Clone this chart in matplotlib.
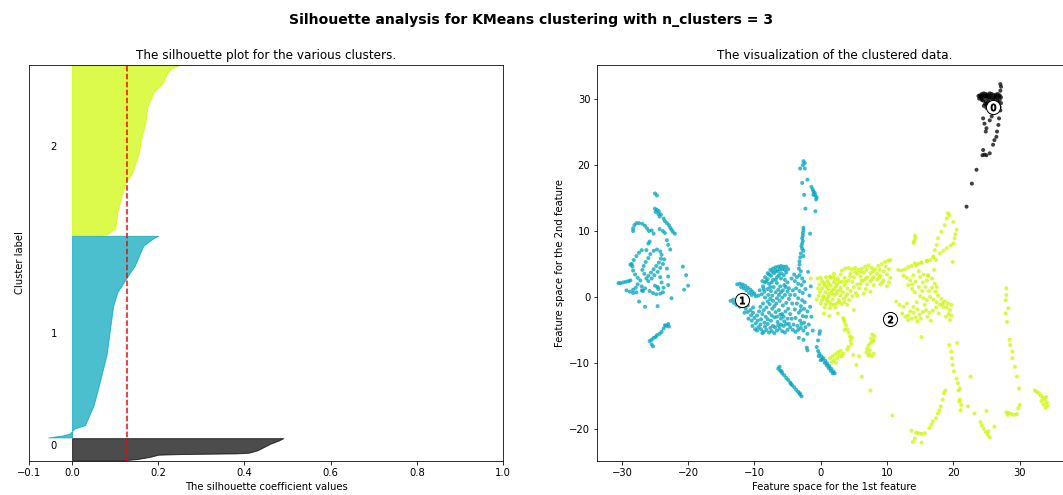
import numpy as np
import matplotlib
matplotlib.use("Agg")
import matplotlib.pyplot as plt
import matplotlib.cm as cm

n_clusters = 3
silhouette_avg = 0.128

# Number of samples per cluster and the gap between cluster bands
cluster_sizes = [280, 2560, 2160]
band_gap = 10
y_top = 5030

# Sorted silhouette coefficients of each cluster, at fractional rank positions
sil_rank_0 = [0.0, 0.05, 0.15, 0.25, 0.28, 0.31, 0.34, 0.45, 0.6, 0.75, 0.9, 1.0]
sil_vals_0 = [0.12, 0.15, 0.18, 0.20, 0.25, 0.38, 0.41, 0.43, 0.445, 0.46, 0.48, 0.49]

sil_rank_1 = [0.0, 0.01, 0.02, 0.044, 0.061, 0.16, 0.24, 0.325, 0.41, 0.49, 0.57,
              0.65, 0.72, 0.77, 0.82, 0.85, 0.9, 0.95, 0.975, 0.99, 1.0]
sil_vals_1 = [-0.055, -0.02, -0.005, 0.005, 0.03, 0.05, 0.06, 0.07, 0.08, 0.085, 0.09,
              0.095, 0.105, 0.12, 0.135, 0.145, 0.155, 0.165, 0.18, 0.19, 0.2]

sil_rank_2 = [0.0, 0.004, 0.039, 0.136, 0.233, 0.311, 0.369, 0.408, 0.485, 0.563, 0.66,
              0.757, 0.845, 0.893, 0.951, 0.98, 1.0]
sil_vals_2 = [0.06, 0.08, 0.10, 0.105, 0.115, 0.125, 0.14, 0.145, 0.155, 0.16, 0.17,
              0.175, 0.19, 0.21, 0.22, 0.23, 0.25]

sil_ranks = [sil_rank_0, sil_rank_1, sil_rank_2]
sil_vals = [sil_vals_0, sil_vals_1, sil_vals_2]

# 2-D embedding of the samples, grouped by assigned cluster
cluster0_points = [
    (27.1, 32.3), (27.2, 31.9), (27.1, 31.3),
    (24.0, 30.6), (24.3, 30.8), (24.6, 30.9), (24.9, 30.8), (25.2, 30.7), (25.5, 30.9),
    (25.8, 30.8), (26.1, 30.6), (26.4, 30.7), (26.7, 30.8), (27.0, 30.6), (27.2, 30.3),
    (24.2, 30.2), (24.6, 30.3), (25.0, 30.2), (25.4, 30.3), (25.8, 30.2), (26.2, 30.2),
    (26.6, 30.2), (27.0, 29.9), (24.5, 29.8), (24.9, 29.7), (25.3, 29.6), (25.6, 29.4),
    (25.2, 29.1), (25.0, 28.7), (25.4, 28.4), (25.8, 28.2), (27.2, 29.4), (27.0, 28.8),
    (27.1, 28.3), (24.3, 29.9), (23.8, 30.5), (23.9, 30.1), (24.7, 30.5), (25.6, 30.5),
    (26.4, 30.4), (26.9, 30.4), (25.1, 30.4), (24.4, 30.5), (24.8, 29.3), (26.6, 29.8),
    (24.1, 30.4), (24.9, 30.5), (25.4, 30.0), (26.0, 30.0), (26.8, 29.5), (25.0, 29.3),
    (24.6, 29.0),
    (24.5, 27.1), (24.7, 26.3), (25.0, 25.6), (24.9, 25.1), (25.5, 26.8), (25.8, 27.4),
    (26.9, 27.1), (26.8, 26.1), (26.6, 25.1), (26.5, 24.3), (26.2, 23.8), (26.0, 23.1),
    (24.5, 22.3), (24.4, 21.5), (25.0, 21.5), (25.5, 21.8), (24.7, 21.6),
    (23.5, 19.3), (22.8, 17.2), (22.0, 13.7),
]

cluster1_points = [
    # western group
    (-25.0, 15.7), (-24.7, 15.4),
    (-25.0, 13.4), (-24.7, 13.2), (-24.4, 13.0), (-24.9, 12.9), (-24.5, 12.6), (-24.1, 12.5),
    (-24.3, 12.2),
    (-23.7, 11.9), (-23.5, 11.5), (-23.2, 11.2), (-22.9, 10.9), (-22.7, 10.5), (-22.5, 10.2),
    (-22.3, 9.9), (-22.0, 9.6),
    (-28.3, 10.4), (-28.1, 10.9), (-27.8, 11.2), (-27.4, 11.2), (-26.9, 11.1), (-26.5, 10.8),
    (-26.2, 10.4), (-25.9, 10.0), (-28.3, 10.0),
    (-25.5, 10.1), (-25.2, 9.6), (-24.3, 10.3), (-23.8, 10.0), (-23.5, 9.7), (-23.2, 8.6),
    (-23.0, 7.9), (-22.7, 7.2), (-25.8, 8.4), (-26.0, 8.1), (-26.3, 7.1),
    (-28.5, 5.0), (-28.2, 5.6), (-27.8, 6.2), (-27.4, 6.7), (-27.0, 7.1), (-28.4, 4.6),
    (-28.7, 4.9),
    (-26.0, 5.9), (-25.7, 6.5), (-25.2, 7.0), (-24.7, 7.2), (-24.2, 6.9), (-24.0, 6.4),
    (-24.1, 5.8), (-24.4, 5.2), (-24.8, 4.7), (-25.2, 4.2), (-25.6, 3.7), (-26.0, 3.2),
    (-26.3, 2.8), (-26.0, 2.4), (-25.5, 2.8), (-25.1, 3.3), (-24.6, 3.8), (-24.2, 4.4),
    (-23.8, 5.0), (-23.6, 5.7), (-26.4, 5.3), (-26.7, 4.7), (-26.9, 4.1), (-26.6, 3.5),
    (-28.3, 4.0), (-28.0, 3.4), (-27.6, 2.9), (-27.2, 2.5), (-27.6, 1.9), (-27.9, 1.4),
    (-28.3, 1.1), (-27.0, 1.6), (-26.8, 0.9),
    (-30.5, 2.1), (-30.2, 2.1), (-29.8, 2.2), (-29.4, 2.3), (-29.0, 2.4), (-28.7, 2.5),
    (-29.3, 1.0), (-28.8, 0.8), (-28.3, 0.6), (-27.8, 0.7), (-27.0, 1.0), (-26.5, 1.3),
    (-25.8, 0.9), (-25.3, 0.6), (-24.8, 0.4), (-24.2, 0.5), (-23.8, 0.7), (-24.5, 1.2),
    (-25.0, 1.7), (-23.7, 1.4),
    (-23.2, 4.3), (-23.0, 3.1), (-23.0, 1.8), (-22.5, -0.2), (-20.8, 4.6), (-20.3, 3.3),
    (-20.0, 1.7), (-20.6, 1.1), (-24.2, 3.0), (-24.0, 2.2), (-24.6, 1.5),
    (-27.4, -0.7), (-26.5, -1.5), (-24.6, -1.4),
    (-23.0, -4.1), (-23.3, -4.4), (-23.7, -4.8), (-24.0, -5.3), (-24.3, -5.6), (-24.7, -5.8),
    (-25.2, -6.2), (-25.5, -6.5), (-25.8, -6.7), (-25.5, -7.2), (-25.3, -7.5), (-23.5, -4.3),
    (-22.9, -4.5), (-24.9, -6.1),
    # northern strand
    (-2.6, 20.6), (-2.4, 20.3), (-2.7, 20.0), (-3.1, 19.5), (-2.4, 19.5), (-2.8, 17.3),
    (-2.0, 17.8), (-1.4, 16.7), (-1.2, 16.3), (-0.9, 15.8), (-0.8, 15.4), (-0.6, 15.1),
    (-1.1, 15.5), (-0.7, 14.8), (-2.5, 15.5), (-2.3, 13.4), (-0.8, 13.0), (-1.1, 16.0),
    (-2.6, 10.5), (-2.6, 10.1), (-2.7, 9.7), (-2.7, 9.3), (-2.8, 8.9), (-2.7, 8.5),
    (-2.8, 8.1), (-2.9, 7.7), (-2.8, 7.3), (-2.6, 7.0), (-1.6, 9.6), (-3.0, 6.6),
    (-3.1, 6.0), (-3.2, 5.4), (-3.2, 4.9), (-3.3, 4.3), (-3.0, 3.9), (-2.6, 6.2),
    (-1.9, 3.8),
    # central group
    (-13.6, -0.6), (-13.2, -0.4), (-12.6, 1.9), (-12.2, 2.0), (-11.8, 1.9), (-11.4, 1.7),
    (-11.0, 1.4), (-10.6, 1.1), (-10.3, 0.8), (-10.0, 0.5), (-9.8, 0.1), (-13.1, -0.9),
    (-12.7, -1.2), (-12.2, -1.5),
    (-11.0, -1.3), (-11.3, -1.8), (-11.0, -2.3), (-10.6, -2.0), (-10.2, -1.6), (-10.5, -2.8),
    (-10.9, -3.3), (-10.4, -3.6), (-10.0, -3.2), (-9.6, -2.8), (-9.8, -4.0), (-10.3, -4.4),
    (-9.9, -4.9), (-9.4, -4.6), (-9.0, -4.9), (-8.6, -5.3), (-8.2, -5.0), (-7.8, -5.4),
    (-7.4, -5.2), (-7.0, -5.5), (-6.6, -5.1), (-6.2, -4.8), (-5.8, -5.2), (-5.4, -5.4),
    (-5.0, -5.0), (-4.6, -4.6), (-4.2, -5.0), (-3.8, -5.3), (-3.4, -5.0), (-3.0, -4.7),
    (-2.6, -5.1), (-2.3, -4.6),
    (-8.8, 2.4), (-8.4, 3.0), (-8.0, 3.6), (-7.6, 4.1), (-7.2, 4.3), (-6.8, 4.5), (-6.4, 4.6),
    (-6.0, 4.7), (-5.6, 4.6), (-5.2, 4.6), (-4.9, 4.2), (-5.2, 3.7), (-5.6, 3.3), (-6.0, 3.6),
    (-6.5, 3.9), (-7.0, 3.6), (-7.5, 3.2), (-8.0, 2.7), (-8.4, 2.2), (-8.7, 1.6), (-7.8, 2.0),
    (-7.2, 2.6), (-6.6, 3.0), (-6.0, 2.8), (-5.4, 2.6), (-5.0, 2.2), (-5.3, 1.5), (-5.7, 1.0),
    (-6.1, 1.6), (-6.6, 2.1), (-7.1, 1.5), (-7.5, 0.9), (-8.0, 1.2), (-8.5, 0.8), (-8.9, 0.4),
    (-8.4, -0.1), (-7.9, 0.3), (-7.3, 0.2), (-6.8, 0.7), (-6.3, 0.3), (-5.8, -0.1),
    (-5.4, 0.3), (-5.0, 0.8), (-4.8, -0.3), (-5.2, -0.9), (-5.7, -1.3), (-6.2, -0.6),
    (-6.7, -1.0), (-7.2, -0.6), (-7.7, -1.1), (-8.2, -1.6), (-8.7, -1.0), (-9.1, -1.5),
    (-9.3, -2.2), (-8.8, -2.6), (-8.3, -3.0), (-7.8, -2.4), (-7.3, -1.8), (-6.8, -2.3),
    (-6.3, -2.0), (-5.8, -2.6), (-5.3, -2.2), (-4.9, -1.8), (-4.6, -2.6), (-5.0, -3.3),
    (-5.5, -3.7), (-6.0, -3.3), (-6.5, -3.8), (-7.0, -3.1), (-7.5, -3.6), (-8.0, -4.1),
    (-8.5, -3.9), (-9.0, -3.4), (-7.2, -4.4), (-6.4, -4.3), (-5.6, -4.4), (-4.8, -4.1),
    (-12.0, 1.5), (-11.6, 1.3), (-11.2, 1.0), (-10.8, 0.6), (-10.4, 0.3), (-9.2, 1.0),
    (-9.4, 0.2), (-8.6, 1.2), (-8.2, 2.4), (-7.8, 3.4), (-7.3, 3.8), (-6.8, 4.0), (-6.2, 4.2),
    (-5.8, 4.2), (-5.4, 4.1), (-6.3, 3.3), (-6.8, 2.6), (-7.4, 2.2), (-7.6, 1.5), (-6.4, 1.1),
    (-6.0, 0.7), (-5.5, 1.8), (-4.8, 1.3), (-4.6, 0.3), (-6.6, -0.2), (-7.0, -1.4),
    (-7.6, -0.3), (-8.0, -0.7), (-8.6, -2.0), (-8.0, -3.4), (-7.4, -2.8), (-6.6, -3.0),
    (-6.1, -2.7), (-5.6, -3.0), (-5.2, -4.1), (-6.0, -4.2), (-6.9, -4.6), (-7.6, -4.7),
    (-8.4, -4.5), (-9.1, -4.2), (-9.5, -3.6), (-10.2, -2.4), (-11.5, -2.4), (-9.6, -5.1),
    (-8.8, -5.5), (-4.4, -3.3), (-4.3, -1.0), (-4.2, 1.0), (-4.4, 2.8), (-3.0, -2.0),
    (-3.5, -4.4), (-2.9, -4.1),
    (-4.0, 3.4), (-3.6, 3.0), (-3.2, 3.3), (-2.8, 2.8), (-3.9, 2.4), (-3.4, 2.0), (-2.9, 1.8),
    (-3.7, 1.3), (-3.2, 0.9), (-2.7, 0.6), (-3.9, 0.3), (-3.4, -0.2), (-2.8, -0.5),
    (-3.6, -1.0), (-3.0, -1.4), (-2.5, -1.8), (-3.9, -1.9), (-3.3, -2.4), (-2.7, -2.9),
    (-3.8, -3.2), (-3.1, -3.6), (-2.5, -3.9), (-4.1, -4.2), (-2.2, -3.0), (-2.4, -0.8),
    (-2.3, 1.2), (-2.5, 2.3),
    (-1.6, -1.5), (-1.4, -3.0), (-1.8, -4.2), (-2.0, -5.6), (-2.6, -6.5), (-1.2, -5.1),
    (-3.3, -6.2), (-2.0, -2.2), (-1.7, 0.2), (-1.5, 1.6), (-2.1, -7.7), (-2.0, -8.1),
    # southern strands
    (-6.4, -10.9), (-6.1, -11.2), (-5.8, -11.6), (-5.5, -11.9), (-5.2, -12.3), (-4.9, -12.6),
    (-4.6, -13.0), (-4.3, -13.4), (-4.0, -13.7), (-3.7, -14.1), (-3.4, -14.4), (-3.1, -14.8),
    (-2.9, -15.1), (-6.2, -10.6), (-5.9, -11.3), (-4.5, -13.2), (-3.2, -14.6),
    (-0.4, -8.2), (-0.2, -8.6), (0.1, -9.0), (0.4, -9.3), (0.7, -9.7), (1.0, -10.1),
    (1.3, -10.5), (1.6, -10.9), (1.9, -11.3), (2.1, -11.6), (0.2, -9.5), (0.6, -10.0),
    (0.9, -10.4), (1.2, -10.8), (1.5, -11.2), (1.8, -11.6), (-0.3, -9.0), (0.0, -9.6),
    (-0.6, -7.6), (-0.4, -6.6), (-0.2, -5.6), (-0.1, -5.2),
]

cluster2_points = [
    # main western mass
    (3.2, 4.0), (3.7, 4.3), (4.2, 4.4), (4.7, 4.2), (5.2, 4.4), (5.7, 4.1), (6.2, 4.3),
    (6.7, 4.6), (7.2, 4.8), (7.7, 4.4), (8.2, 4.2), (8.7, 4.7), (9.2, 5.0), (9.7, 5.3),
    (10.2, 5.5), (10.5, 5.6),
    (2.0, 3.5), (3.0, 3.4), (4.5, 3.6), (5.5, 3.5), (6.5, 3.7), (7.5, 3.6), (8.5, 3.5),
    (9.5, 3.9), (10.3, 4.2),
    (0.8, 3.0), (1.5, 2.9), (2.6, 2.8), (3.6, 2.9), (5.0, 3.0), (6.0, 3.1), (7.0, 3.0),
    (8.0, 3.0), (9.0, 3.2), (10.0, 3.4), (10.5, 2.9),
    (0.2, 2.4), (1.0, 2.4), (2.0, 2.2), (3.2, 2.3), (4.2, 2.5), (4.8, 2.3), (6.5, 2.5),
    (7.5, 2.4), (8.5, 2.6), (9.5, 2.5), (10.3, 2.2),
    (-0.2, 1.9), (0.6, 1.8), (1.5, 1.7), (2.5, 1.9), (3.6, 1.8), (5.5, 1.9), (6.0, 2.0),
    (7.0, 1.9), (8.0, 1.8), (9.0, 1.9), (10.0, 1.6),
    (0.2, 1.3), (1.1, 1.2), (2.0, 1.2), (3.0, 1.4), (4.0, 1.3), (5.0, 1.5), (5.8, 1.3),
    (6.8, 1.2),
    (-0.1, 0.8), (0.7, 0.7), (1.6, 0.6), (2.5, 0.9), (3.4, 0.7), (4.5, 0.9), (5.3, 0.6),
    (-0.3, 0.2), (0.4, 0.1), (1.2, 0.0), (2.0, 0.3), (3.0, 0.2), (4.0, 0.4), (4.8, 0.1),
    (5.5, 0.2),
    (-0.6, -0.4), (0.2, -0.5), (1.0, -0.6), (1.8, -0.4), (2.7, -0.5), (3.5, -0.3), (4.3, -0.5),
    (0.0, -1.0), (0.8, -1.1), (1.6, -1.2), (2.4, -1.0), (3.2, -1.1), (4.0, -1.2),
    (0.6, -1.6), (1.4, -1.7), (2.2, -1.6),
    (0.5, -2.5), (1.3, -2.9), (2.6, -2.5), (-0.5, 2.8), (1.4, 3.1), (1.9, 3.0), (6.5, 0.5),
    (7.5, 0.8), (5.0, -2.0), (-1.5, 2.8),
    (0.0, 2.9), (0.5, 2.1), (1.2, 2.0), (0.9, 1.5), (1.7, 1.0), (2.3, 1.6), (2.8, 2.3),
    (2.2, 2.6), (3.0, 1.0), (3.8, 2.3), (4.4, 3.1), (5.2, 3.8), (6.0, 3.8), (6.9, 4.1),
    (7.9, 3.9), (8.9, 4.1), (9.8, 4.6), (8.8, 2.9), (9.3, 2.2), (7.8, 2.7), (6.8, 2.8),
    (6.2, 2.5), (0.4, -0.1), (0.9, -0.3), (1.4, -0.9), (2.0, -1.2), (2.8, -0.8), (3.6, -0.8),
    (3.8, 0.1), (2.4, 0.5), (1.2, 0.4), (-0.4, 1.3),
    # main eastern mass
    (11.7, 4.1), (12.2, 4.0), (12.7, 4.2), (13.2, 4.5), (13.7, 4.7), (14.2, 5.1), (14.7, 5.0),
    (15.2, 5.2), (16.0, 5.4), (16.5, 5.6), (17.0, 6.0),
    (12.5, 3.2), (13.0, 2.9), (13.5, 2.5), (14.0, 3.3), (14.8, 3.9), (15.5, 3.4), (16.2, 3.2),
    (16.8, 2.8), (17.2, 2.0),
    (13.2, 1.8), (13.8, 1.2), (14.2, 0.7), (14.8, 1.5), (15.4, 2.2), (15.8, 1.5), (16.3, 0.9),
    (16.8, 1.4), (17.3, 0.8), (17.7, 0.2), (18.2, -0.3), (18.7, -0.7), (19.2, -1.0),
    (19.7, -1.2), (19.5, -2.0), (19.7, -2.8), (19.5, -3.5), (18.5, -1.5), (18.0, -1.2),
    (17.5, -0.8), (17.0, -0.4), (16.5, 0.0), (16.0, -0.5), (15.5, -0.2), (15.0, 0.1),
    (14.5, -0.8), (14.0, -1.5), (13.5, -2.2), (13.2, -2.8), (13.7, -3.3), (14.3, -3.1),
    (14.9, -2.7), (15.4, -2.3), (15.9, -2.0), (16.4, -2.4), (16.9, -2.1), (17.4, -1.6),
    (17.8, -2.5), (16.6, -3.6), (12.8, -3.0), (12.3, -2.5), (12.5, -1.5), (13.0, -1.0),
    (11.4, -0.7), (11.9, -1.2),
    (15.0, 3.0), (14.3, 2.3), (13.8, 1.9), (15.3, 0.9), (16.0, 2.5), (17.5, 1.5),
    (18.4, -1.0), (19.0, -1.6), (19.3, -2.6), (18.9, -3.0), (16.1, -3.0), (15.1, -3.3),
    (14.6, -3.7), (13.2, -3.5), (14.0, -2.4), (15.7, -1.2), (14.6, -1.9),
    # north-eastern branches
    (19.2, 12.7), (19.4, 12.4), (19.0, 11.9), (18.7, 10.9), (20.0, 11.4), (18.2, 9.9),
    (20.5, 10.2), (17.7, 8.9), (20.2, 8.9), (17.5, 7.9), (20.0, 8.1), (17.2, 7.1), (19.0, 7.4),
    (18.0, 6.6), (17.0, 6.1), (17.4, 5.6), (16.0, 5.5), (15.2, 5.2), (14.4, 4.8), (19.9, 5.3),
    (17.1, 4.1), (16.2, 3.3), (20.3, 9.5), (18.5, 7.0), (19.6, 7.8),
    (14.2, 9.3), (14.3, 8.9), (14.1, 8.5), (14.0, 8.2),
    # southern strands and groups
    (3.4, -3.2), (3.6, -3.8), (3.8, -4.3), (4.0, -4.9), (4.2, -5.4), (4.4, -6.0), (4.5, -6.6),
    (4.6, -7.1), (4.2, -7.6), (4.0, -8.0), (3.6, -5.0), (4.7, -6.2), (3.5, -3.5),
    (7.8, -5.7), (8.1, -6.0), (7.6, -6.3), (8.0, -6.6), (7.5, -7.0), (7.2, -7.4), (7.0, -7.9),
    (6.9, -8.4), (7.3, -8.7), (7.7, -9.0), (8.0, -8.6), (7.4, -8.1), (7.8, -6.8), (7.2, -8.9),
    (1.4, -9.3), (1.8, -9.0), (2.2, -8.7), (2.6, -8.4), (3.0, -8.2), (3.4, -8.6), (2.0, -9.6),
    (2.5, -9.3), (1.7, -9.9), (3.2, -9.0), (2.8, -8.9), (2.3, -10.0),
    (4.9, -8.8), (5.4, -10.3), (6.2, -12.1), (7.5, -14.2), (10.8, -18.0), (5.8, -9.0),
    (15.2, -6.1),
    (28.0, 1.3), (28.0, 0.3), (27.9, -0.5), (28.3, -1.7), (27.9, -2.5), (28.1, -3.8),
    (28.5, -6.5), (28.6, -7.3), (28.9, -8.3), (28.9, -9.3), (29.3, -10.6), (29.6, -12.1),
    (29.9, -13.9), (30.0, -16.4), (29.8, -16.9),
    (28.0, -17.5), (28.4, -17.6), (28.8, -17.8), (29.2, -17.9), (29.6, -17.8), (28.2, -17.9),
    (32.3, -14.2), (32.6, -14.4), (32.9, -14.6), (33.2, -15.0), (33.5, -15.3), (33.8, -15.6),
    (34.1, -16.0), (34.2, -16.5), (33.9, -16.8), (33.6, -16.3), (33.3, -15.8), (34.0, -15.2),
    (19.4, -7.3), (20.6, -7.0), (19.7, -8.3), (19.8, -9.3), (19.9, -10.3), (20.1, -11.3),
    (20.5, -12.4), (20.7, -13.1), (21.0, -13.9), (20.8, -14.2), (21.0, -15.6), (21.2, -16.4),
    (21.1, -17.2), (20.9, -15.9),
    (22.6, -12.1), (22.2, -16.6), (23.2, -17.7), (25.0, -17.3), (26.2, -19.7),
    (24.1, -19.0), (24.3, -19.5), (24.6, -20.0), (24.9, -20.5), (25.2, -20.9), (25.5, -21.3),
    (25.3, -20.4),
    (18.6, -14.6), (18.4, -15.6), (18.1, -16.6), (17.7, -17.7), (17.4, -18.4), (16.9, -18.9),
    (16.4, -19.9), (15.7, -20.7), (15.2, -20.8), (14.4, -20.6), (13.7, -20.3), (14.2, -21.5),
    (13.9, -22.0), (15.2, -22.1), (18.8, -14.2), (17.9, -17.2), (16.7, -19.4), (14.8, -20.7),
]

centers = [(26.0, 28.9), (-11.8, -0.4), (10.4, -3.3)]

# ---------------------------------------------------------------------------
plt.rcParams["font.family"] = ["DejaVu Sans"]
fig = plt.figure(figsize=(1063 / 72, 495 / 72), dpi=72)
ax1 = fig.add_axes([29 / 1063, 34 / 495, 474 / 1063, 396 / 495])
ax2 = fig.add_axes([597.3 / 1063, 34 / 495, 474 / 1063, 396 / 495])

# Silhouette plot
ax1.set_xlim([-0.1, 1])
ax1.set_ylim([0, y_top])
y_lower = band_gap
for i in range(n_clusters):
    size_i = cluster_sizes[i]
    ranks = np.asarray(sil_ranks[i])
    vals = np.asarray(sil_vals[i])
    y_upper = y_lower + size_i
    color = cm.nipy_spectral(float(i) / n_clusters)
    ax1.fill_betweenx(y_lower + ranks * size_i, 0, vals,
                      facecolor=color, edgecolor=color, alpha=0.7)
    ax1.text(-0.05, y_lower + 0.5 * size_i, str(i))
    y_lower = y_upper + band_gap

ax1.set_title("The silhouette plot for the various clusters.")
ax1.set_xlabel("The silhouette coefficient values")
ax1.set_ylabel("Cluster label")
ax1.axvline(x=silhouette_avg, color="red", linestyle="--")
ax1.set_yticks([])
ax1.set_xticks([-0.1, 0, 0.2, 0.4, 0.6, 0.8, 1])

# Scatter of the clustered samples
groups = [cluster0_points, cluster1_points, cluster2_points]
X = np.vstack([np.asarray(g, dtype=float) for g in groups])
labels = np.concatenate([np.full(len(g), k) for k, g in enumerate(groups)])
colors = cm.nipy_spectral(labels.astype(float) / n_clusters)
ax2.scatter(X[:, 0], X[:, 1], marker=".", s=64, lw=0, alpha=0.75,
            c=colors, edgecolor="k")

C = np.asarray(centers)
ax2.scatter(C[:, 0], C[:, 1], marker="o", c="white", alpha=1, s=200, edgecolor="k")
for i, c in enumerate(C):
    ax2.scatter(c[0], c[1], marker="$%d$" % i, alpha=1, s=50, edgecolor="k")

ax2.set_xlim(-33.7, 37.8)
ax2.set_ylim(-24.9, 35.2)
ax2.set_title("The visualization of the clustered data.")
ax2.set_xlabel("Feature space for the 1st feature")
ax2.set_ylabel("Feature space for the 2nd feature")

fig.suptitle("Silhouette analysis for KMeans clustering with n_clusters = %d" % n_clusters,
             fontsize=14, fontweight="bold", y=1 - 20 / 495, va="center")

fig.savefig("out.png", dpi=72)
